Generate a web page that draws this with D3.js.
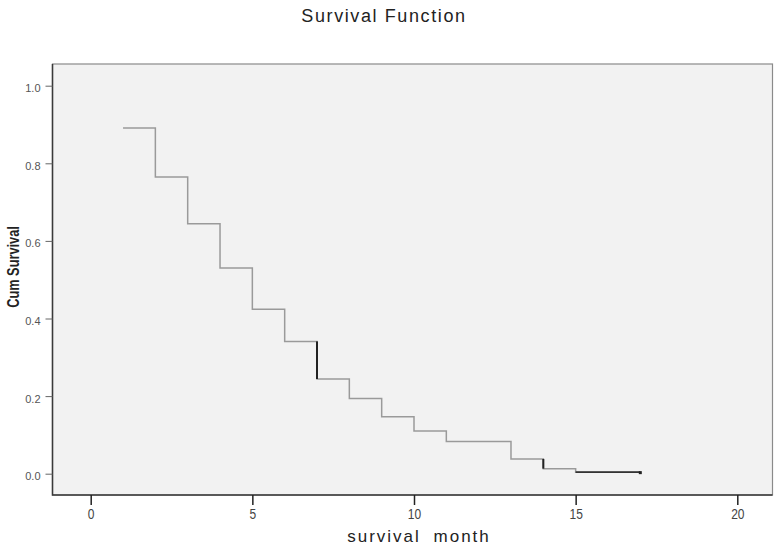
<!DOCTYPE html>
<html>
<head>
<meta charset="utf-8">
<script src="https://cdn.jsdelivr.net/npm/d3@7"></script>
<style>
  body { margin: 0; background: #fff; }
  svg { display: block; font-family: "Liberation Sans", Arial, sans-serif; }
</style>
</head>
<body>
<div id="chart"></div>
<script>
// survival step curve
const stepTimes = [1, 2, 3, 4, 5, 6, 7, 8, 9, 10, 11, 13, 14, 15];
const survival  = [0.891, 0.765, 0.644, 0.530, 0.424, 0.341, 0.244, 0.194, 0.147, 0.110, 0.083, 0.038, 0.013, 0.004];
const endTime = 17;
const xTicks = [0, 5, 10, 15, 20];
const yTicks = [0.0, 0.2, 0.4, 0.6, 0.8, 1.0];

const width = 778, height = 546;
const frame = { left: 52.5, top: 64, right: 772.5, bottom: 495 };

const svg = d3.select("#chart").append("svg")
    .attr("width", width)
    .attr("height", height);

const x = d3.scaleLinear().domain([0, 20]).range([90.7, 737.3]);
const y = d3.scaleLinear().domain([0, 1]).range([473.7, 85.7]);

// plot area
svg.append("rect")
    .attr("x", frame.left)
    .attr("y", frame.top)
    .attr("width", frame.right - frame.left)
    .attr("height", frame.bottom - frame.top)
    .attr("fill", "#f2f2f2")
    .attr("stroke", "#8a8a8a")
    .attr("stroke-width", 1.2);

// darker left and bottom edges
svg.append("path")
    .attr("d", `M${frame.left},${frame.top}V${frame.bottom}H${frame.right}`)
    .attr("fill", "none")
    .attr("stroke", "#3a3a3a")
    .attr("stroke-width", 1.5);

// axes
const xAxis = d3.axisBottom(x).tickValues(xTicks).tickSize(10).tickPadding(3)
    .tickFormat(d3.format("d"));
const gx = svg.append("g").attr("transform", `translate(0,${frame.bottom})`).call(xAxis);
gx.select(".domain").remove();
gx.selectAll(".tick line").attr("stroke", "#222").attr("stroke-width", 1.5);
gx.selectAll(".tick text")
    .attr("fill", "#444")
    .attr("transform", "scale(0.8,1)")
    .style("font-size", "15px");

const yAxis = d3.axisLeft(y).tickValues(yTicks).tickSize(7).tickPadding(5)
    .tickFormat(d3.format(".1f"));
const gy = svg.append("g").attr("transform", `translate(${frame.left},0)`).call(yAxis);
gy.select(".domain").remove();
gy.selectAll(".tick line").attr("stroke", "#666");
gy.selectAll(".tick text").attr("fill", "#555").attr("dy", "0.55em").style("font-size", "11px");

// step line
const pts = stepTimes.map((t, i) => [t, survival[i]]);
pts.push([endTime, survival[survival.length - 1]]);

const line = d3.line()
    .x(d => x(d[0]))
    .y(d => y(d[1]))
    .curve(d3.curveStepAfter);

svg.append("path")
    .datum(pts)
    .attr("d", line)
    .attr("fill", "none")
    .attr("stroke", "#9a9a9a")
    .attr("stroke-width", 1.5);

// darker (overlapping) pieces of the curve
const darkDrops = [6, 12];   // index of step whose drop is drawn dark
darkDrops.forEach(i => {
    svg.append("line")
        .attr("x1", x(stepTimes[i])).attr("x2", x(stepTimes[i]))
        .attr("y1", y(survival[i - 1])).attr("y2", y(survival[i]))
        .attr("stroke", "#222").attr("stroke-width", 2);
});
const last = survival.length - 1;
svg.append("line")
    .attr("x1", x(stepTimes[last])).attr("x2", x(endTime))
    .attr("y1", y(survival[last])).attr("y2", y(survival[last]))
    .attr("stroke", "#333").attr("stroke-width", 1.6);
svg.append("rect")
    .attr("x", x(endTime) - 1.5).attr("y", y(survival[last]) - 1)
    .attr("width", 3).attr("height", 3)
    .attr("fill", "#222");

// titles
svg.append("text")
    .attr("x", 384).attr("y", 22)
    .attr("text-anchor", "middle")
    .style("font-size", "18px")
    .style("letter-spacing", "1.6px")
    .attr("fill", "#222")
    .text("Survival Function");

svg.append("text")
    .attr("x", 419).attr("y", 542)
    .attr("text-anchor", "middle")
    .style("font-size", "17px")
    .style("letter-spacing", "2px")
    .style("word-spacing", "6px")
    .attr("fill", "#222")
    .text("survival month");

svg.append("text")
    .attr("transform", `translate(19,267) rotate(-90) scale(0.8,1)`)
    .attr("text-anchor", "middle")
    .style("font-size", "16px")
    .style("font-weight", "bold")
    .attr("fill", "#222")
    .text("Cum Survival");
</script>
</body>
</html>
